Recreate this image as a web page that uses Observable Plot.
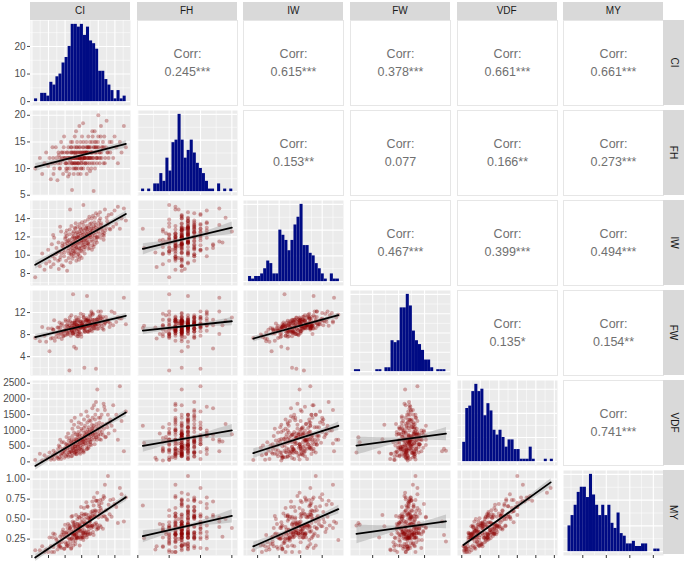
<!DOCTYPE html>
<html><head><meta charset="utf-8">
<script src="https://cdn.jsdelivr.net/npm/d3@7"></script>
<script src="https://cdn.jsdelivr.net/npm/@observablehq/plot@0.6"></script>
<style>
body{margin:0;background:#fff;font-family:"Liberation Sans",Arial,sans-serif;}
#fig{position:relative;width:685px;height:562px;overflow:hidden;background:#fff;}
.strip{position:absolute;background:#D9D9D9;color:#1A1A1A;font-size:10px;display:flex;align-items:center;justify-content:center;}
.strip.right span{display:block;transform:rotate(90deg);white-space:nowrap;}
</style></head><body><div id="fig"></div>
<script>
// ---------------- data ----------------
const VARS = ["CI","FH","IW","FW","VDF","MY"];

const CI = [
31.0,32.4,33.1,33.8,34.3,34.9,35.3,35.7,36.0,36.2,
37.4,36.5,38.0,36.9,37.7,38.1,36.7,37.2,37.9,36.4,
38.6,39.2,38.3,39.0,38.8,39.4,38.4,39.1,38.9,38.5,
39.9,40.3,39.6,40.1,39.5,40.4,39.8,40.0,39.7,40.2,
40.8,40.5,41.1,40.7,41.0,40.6,40.9,41.2,40.5,40.8,
41.5,41.8,41.3,41.6,41.9,41.4,41.7,41.3,41.8,41.5,
42.1,42.3,42.0,42.2,41.9,42.4,42.1,42.0,42.3,42.2,
42.6,42.8,42.5,42.9,42.7,42.5,42.8,42.6,42.9,42.7,
43.1,43.3,43.0,43.2,43.4,43.1,42.9,43.3,43.2,43.0,
43.6,43.8,43.5,43.7,43.9,43.5,43.6,43.8,43.7,43.4,
44.1,44.3,44.0,44.2,44.4,44.1,43.9,44.3,44.2,44.0,
44.6,44.8,44.5,44.7,44.9,44.6,44.5,44.8,44.7,44.4,
45.1,45.3,45.0,45.2,45.4,45.1,44.9,45.3,45.2,45.0,
45.6,45.8,45.5,45.7,45.9,45.6,45.5,45.8,45.7,45.4,
46.1,46.4,46.0,46.3,46.5,46.2,45.9,46.4,46.2,46.0,
46.7,46.9,46.6,46.8,47.0,46.7,46.5,46.9,46.8,46.6,
47.2,47.5,47.1,47.4,47.6,47.3,47.0,47.5,47.3,47.1,
47.8,48.1,47.7,48.0,48.2,47.9,47.6,48.1,47.9,47.7,
48.5,48.8,48.3,48.6,48.9,48.4,48.2,48.7,48.6,48.3,
49.2,49.5,49.0,49.3,49.6,49.1,48.9,49.4,49.3,49.0,
50.0,50.3,49.7,50.1,50.4,49.9,49.6,50.2,50.0,49.8,
50.9,51.4,50.6,51.1,51.6,50.8,50.5,51.3,51.0,50.7,
52.3,53.1,51.8,52.7,53.4,52.0,51.7,52.9,52.5,52.1,
53.6,54.0,54.5,54.9,55.4,55.9,56.5,57.0,57.7,58.3];

const FH = [
10,12,9,11,13,10.5,12,8,11,14,
12,9,13,11,7.8,12.5,10,14,11,12,
11,13,10,12,15,9,12,11.5,13,10,
12,10,14,11,12,9.5,13,12,16,11,
13,11,12,10,14,12,8.5,11,13,12,
12,14,10,13,11,12,15,9,12,11.5,
6,12,13,11,14,10,12,13,11,15,
12,10,13,16,11,12,14,9,12,13,
11,13,12,10,14,12.5,11,17,12,13,
14,12,11,13,9,12,15,11,12,10,
12,13,10,14,12,11,13,18,12,11,
13,11,12,15,10,12,14,13,9,12,
12,14,11,13,12,16,10,12,13,11.5,
13,12,15,11,12,14,10,13,12,18.5,
11,13,12,14,9,13,12,15,11,13,
14,12,13,11,16,12,13,10,14,12,
12,15,13,11,12,14,13,9.5,12,14,
13,11,14,12,17,13,12,15,10,13,
12,14,13,5.8,15,12,13,11,14,16,
14,12,13,15,11,13,17,12,14,10,
20,13,12,14,11,15,13,12,16,14,
13,15,12,14,11,18,13,14,12,16,
14,12,16,13,15,11,14,13,19,12,
13,15,12,16,14,11,15,13,18,14];

const IW = [
7.6,8.8,10.2,8.4,9.1,10.6,9.3,8.7,11.2,9.9,
10.8,9.0,11.4,9.6,10.3,8.5,11.9,10.1,9.4,12.2,
9.8,11.3,10.4,8.9,12.6,10.9,9.5,11.0,10.2,13.1,
11.2,9.4,10.6,12.0,8.8,11.5,10.3,11.8,9.9,12.4,
10.5,12.1,9.7,11.3,10.8,8.3,11.6,10.2,12.7,11.0,
11.4,10.1,12.3,9.2,11.0,12.8,10.6,11.7,10.3,15.0,
10.8,12.0,11.3,9.6,13.2,10.5,11.8,10.0,12.4,11.1,
12.1,10.4,11.5,13.0,9.9,11.2,10.7,12.6,11.9,10.2,
11.0,12.4,10.3,11.8,9.4,12.9,11.3,10.8,13.5,11.6,
12.0,10.6,11.4,13.1,10.1,11.9,12.5,9.8,11.2,10.9,
11.3,12.6,10.2,11.9,13.4,10.8,12.2,11.5,9.5,12.0,
12.4,11.0,13.0,10.5,11.7,12.1,9.9,11.4,12.8,10.7,
11.6,12.9,10.4,12.2,11.1,13.6,10.8,11.9,12.5,9.7,
12.3,11.2,13.3,10.6,12.0,11.6,15.5,10.9,12.7,11.4,
11.8,13.0,10.9,12.4,11.3,12.9,10.2,12.1,11.6,13.7,
12.6,11.3,13.2,12.0,10.7,12.8,11.6,13.9,11.1,12.3,
11.9,13.4,12.2,10.8,12.7,11.5,13.0,12.4,14.2,11.2,
13.1,11.7,12.5,14.0,11.1,12.9,12.2,10.6,13.5,12.0,
12.4,13.6,11.5,12.9,11.9,14.3,12.1,13.2,10.9,12.7,
13.3,12.0,14.1,11.6,12.8,13.0,11.2,12.5,14.6,12.2,
12.6,13.8,11.9,13.1,12.3,14.4,11.4,12.9,13.5,12.0,
13.5,12.2,14.0,12.8,11.7,13.3,14.7,12.5,13.0,11.9,
13.0,14.4,12.4,13.7,12.9,15.0,12.1,13.4,14.1,12.7,
12.8,14.5,13.1,14.9,13.4,15.3,12.9,14.0,15.1,13.8];

const FW = [
7.4,6.8,9.4,7.8,6.7,9.1,5.0,7.3,9.1,7.4,
8.1,8.9,9.3,6.9,9.3,7.5,10.6,7.5,8.2,8.9,
9.3,8.6,10.2,7.2,9.8,7.7,8.7,10.0,8.2,8.1,
8.8,8.9,7.8,10.7,8.4,8.6,9.5,7.9,8.7,10.4,
9.9,9.0,8.7,8.3,10.5,8.0,8.1,9.2,9.7,9.4,
8.4,9.0,1.5,9.2,8.7,11.1,7.8,9.7,9.4,10.4,
9.6,8.3,10.1,8.2,11.5,15.3,8.8,8.7,9.2,10.1,
9.2,9.6,8.1,10.5,8.8,8.3,10.2,9.7,10.1,5.8,
9.4,9.2,9.9,8.0,9.1,10.2,8.5,5.5,11.2,9.1,
8.6,9.5,10.7,9.7,8.1,10.5,9.7,9.0,7.7,9.8,
10.1,9.6,7.7,11.1,10.4,8.5,10.7,8.1,8.9,9.5,
9.4,10.4,9.2,9.3,8.1,10.3,9.6,9.3,11.8,8.4,
9.9,9.1,9.7,9.5,10.4,9.6,7.6,10.2,9.7,10.0,
9.3,2.0,11.2,9.5,8.5,11.1,11.6,8.7,9.2,9.7,
10.7,9.8,8.5,10.6,10.7,9.1,9.1,9.5,10.4,9.9,
9.8,10.4,15.0,8.6,9.7,9.5,11.0,10.8,8.5,10.5,
10.5,9.2,10.3,8.8,11.3,9.8,9.5,11.5,10.4,8.5,
9.5,10.3,9.9,11.9,9.7,8.9,10.8,8.6,12.2,10.0,
10.6,9.9,10.7,9.2,10.0,11.8,9.5,9.1,10.0,11.6,
10.1,10.7,9.7,1.8,10.8,9.8,10.7,10.0,9.6,9.1,
11.1,10.3,9.0,9.1,11.3,10.8,10.3,9.6,12.2,9.9,
10.0,11.2,10.6,10.9,8.9,12.2,11.5,9.1,9.5,10.9,
11.2,10.3,9.8,10.5,9.4,10.2,10.4,10.6,10.5,10.1,
10.0,12.2,9.7,11.9,10.3,11.1,10.9,10.9,14.7,9.9];

const VDF = [
60,260,45,210,90,150,300,70,120,180,
180,350,90,260,130,520,75,300,410,220,
250,410,150,620,95,330,480,280,200,700,
310,560,620,420,250,790,130,450,370,180,
520,240,680,380,160,450,900,300,560,210,
400,650,300,530,1300,470,310,760,180,580,
600,450,280,1050,340,350,190,700,420,820,
380,720,560,250,930,470,300,640,500,1180,
650,330,500,880,260,420,1400,720,560,300,
480,780,350,620,1100,240,690,530,860,400,
700,420,950,560,300,1250,480,640,820,350,
520,690,400,730,1050,260,600,1500,450,880,
760,450,1000,620,330,840,1200,560,700,380,
350,620,560,1350,810,300,700,930,1080,650,
850,520,1150,680,400,960,730,1600,590,820,
700,880,420,1020,430,1250,760,610,1450,900,
950,620,1100,1000,550,1320,860,700,780,480,
820,1180,650,960,1700,720,880,1050,540,1300,
1000,700,1400,1150,560,860,1080,1800,780,920,
1100,780,1350,780,700,1500,860,1200,1900,920,
880,1250,2300,1400,720,1050,950,1150,820,1650,
1100,850,1400,950,1850,700,1000,1200,1500,880,
800,900,1750,1100,1250,1650,1050,1500,1200,780,
1350,1150,1800,1000,1500,700,2400,1300,340,1600];

const MY = [
0.11,0.11,0.16,0.09,0.12,0.09,0.27,0.16,0.09,0.27,
0.24,0.15,0.16,0.31,0.12,0.18,0.09,0.26,0.22,0.32,
0.15,0.34,0.20,0.21,0.14,0.37,0.16,0.25,0.30,0.28,
0.28,0.19,0.33,0.21,0.30,0.34,0.13,0.43,0.13,0.33,
0.20,0.31,0.32,0.39,0.16,0.17,0.44,0.26,0.16,0.27,
0.38,0.25,0.42,0.19,0.53,0.24,0.40,0.36,0.13,0.39,
0.26,0.47,0.32,0.54,0.14,0.22,0.32,0.26,0.30,0.34,
0.36,0.30,0.45,0.26,0.31,0.17,0.31,0.43,0.30,0.41,
0.23,0.31,0.42,0.32,0.28,0.19,0.46,0.55,0.38,0.40,
0.34,0.26,0.35,0.50,0.39,0.27,0.27,0.44,0.44,0.26,
0.30,0.43,0.39,0.41,0.17,0.53,0.27,0.52,0.39,0.35,
0.42,0.27,0.35,0.25,0.46,0.41,0.27,0.65,0.35,0.37,
0.36,0.40,0.57,0.27,0.33,0.29,0.54,0.46,0.32,0.50,
0.27,0.43,0.32,0.64,0.56,0.33,0.24,0.36,0.55,0.28,
0.32,0.45,0.50,0.56,0.27,0.34,0.46,0.71,0.30,0.44,
0.52,0.31,0.30,0.41,0.34,0.66,0.33,0.41,0.65,0.41,
0.41,0.47,0.37,0.48,0.42,0.50,0.55,0.31,0.46,0.51,
0.51,0.42,0.53,0.41,0.72,0.59,0.32,0.54,0.39,0.52,
0.40,0.54,0.60,0.67,0.44,0.34,0.57,0.77,0.30,0.42,
0.60,0.37,0.59,0.45,0.40,0.55,0.53,0.73,0.73,0.61,
0.39,0.66,0.83,0.60,0.57,0.38,0.43,0.69,0.52,0.73,
0.61,0.38,0.74,0.53,0.79,0.40,0.42,0.75,0.70,0.64,
0.61,0.68,0.77,0.49,0.56,0.93,0.54,1.04,0.50,0.53,
0.74,0.53,0.75,0.69,0.65,0.45,0.89,0.81,0.47,0.77];

const HIST_CI  = [1,0,3,3,2,7,6,9,10,14,16,20,28,28,27,28,24,27,22,21,19,11,11,8,6,4,1,4,1,2];
const HIST_FH  = [1,0,1,0,3,3,7,4,13,8,19,20,30,20,13,16,20,15,11,9,7,4,1,1,0,3,0,1,0,1];
const HIST_IW  = [2,1,2,2,3,5,8,7,3,3,20,18,16,12,16,22,25,30,14,14,11,10,7,5,3,1,0,3,1,1];
const HIST_FW  = [1,1,0,0,0,0,0,1,1,0,2,2,16,15,16,33,33,40,34,21,16,14,11,6,6,2,0,1,1,1];
const HIST_VDF = [8,22,23,29,32,29,30,19,24,21,13,11,13,10,6,9,9,5,5,1,1,1,6,1,0,0,0,1,0,1];
const HIST_MY  = [10,14,18,23,25,25,21,30,22,18,14,18,14,18,11,9,15,7,6,3,3,4,2,2,3,3,0,0,1,1];
const SPAN_CI = [30.8, 58.4], SPAN_FH = [5.6, 20.15], SPAN_IW = [7.16, 15.6];
const SPAN_FW = [1.19, 15.29], SPAN_VDF = [27, 2473], SPAN_MY = [0.093, 1.07];

// correlation labels, upper triangle, row by row
const CORR_CI  = ["0.245***","0.615***","0.378***","0.661***","0.661***"];
const CORR_FH  = ["0.153**","0.077","0.166**","0.273***"];
const CORR_IW  = ["0.467***","0.399***","0.494***"];
const CORR_FW  = ["0.135*","0.154**"];
const CORR_VDF = ["0.741***"];

// tick values and labels
const TICKS_CI = [30,35,40,45,50,55];            const LABELS_CI = ["30","35","40","45","50","55"];
const TICKS_FH = [5,10,15,20];                   const LABELS_FH = ["5","10","15","20"];
const TICKS_IW = [8,10,12,14];                   const LABELS_IW = ["8","10","12","14"];
const TICKS_FW = [4,8,12];                       const LABELS_FW = ["4","8","12"];
const TICKS_VDF = [0,500,1000,1500,2000,2500];   const LABELS_VDF = ["0","500","1000","1500","2000","2500"];
const TICKS_MY = [0.25,0.5,0.75,1.0];            const LABELS_MY = ["0.25","0.50","0.75","1.00"];
const TICKS_COUNT = [0,10,20];                   const LABELS_COUNT = ["0","10","20"];

// ---------------- scale / layout config ----------------
const DOMAIN = {CI:[29.58,59.7], FH:[4.95,20.9], IW:[6.69,15.98], FW:[0.58,16.0], VDF:[-115,2585], MY:[0.045,1.108]};
const COL_X = [30, 136.67, 243.33, 350, 456.67, 563.33];
const ROW_Y = [20, 110, 200, 290, 380, 470];
const PW = 100, PH = 85;
const NAVY = "#000B84", RED = "#8B0000";
const FONT = "'Liberation Sans', Arial, Helvetica, sans-serif";

const DATA = {CI, FH, IW, FW, VDF, MY};
const HIST = {CI:HIST_CI, FH:HIST_FH, IW:HIST_IW, FW:HIST_FW, VDF:HIST_VDF, MY:HIST_MY};
const SPAN = {CI:SPAN_CI, FH:SPAN_FH, IW:SPAN_IW, FW:SPAN_FW, VDF:SPAN_VDF, MY:SPAN_MY};
const CORR = [CORR_CI, CORR_FH, CORR_IW, CORR_FW, CORR_VDF];
const TICKS = {CI:TICKS_CI, FH:TICKS_FH, IW:TICKS_IW, FW:TICKS_FW, VDF:TICKS_VDF, MY:TICKS_MY};
const LABELS = {CI:LABELS_CI, FH:LABELS_FH, IW:LABELS_IW, FW:LABELS_FW, VDF:LABELS_VDF, MY:LABELS_MY};

const obs = CI.map((_, i) => Object.fromEntries(VARS.map(v => [v, DATA[v][i]])));

function minorTicks(t, dom) {
  const s = t[1] - t[0], out = [];
  for (let k = -1; k < t.length; k++) {
    const m = t[0] + s * (k + 0.5);
    if (m > dom[0] && m < dom[1]) out.push(m);
  }
  return out;
}
function gridMarks(xt, xd, yt, yd) {
  return [
    Plot.frame({fill: "#EBEBEB", stroke: "none"}),
    Plot.ruleX(minorTicks(xt, xd), {x: d => d, stroke: "#fff", strokeWidth: 0.55}),
    Plot.ruleY(minorTicks(yt, yd), {y: d => d, stroke: "#fff", strokeWidth: 0.55}),
    Plot.ruleX(xt.filter(d => d >= xd[0] && d <= xd[1]), {x: d => d, stroke: "#fff", strokeWidth: 1.1}),
    Plot.ruleY(yt.filter(d => d >= yd[0] && d <= yd[1]), {y: d => d, stroke: "#fff", strokeWidth: 1.1})
  ];
}

const fig = document.getElementById("fig");

for (let r = 0; r < 6; r++) {
  for (let c = 0; c < 6; c++) {
    const xv = VARS[c], yv = VARS[r];
    const left = c === 0, bottom = r === 5;
    const ml = left ? 30 : 0, mb = bottom ? 7 : 0;
    const xdom = DOMAIN[xv];
    let ydom, marks = [], yTicks = TICKS[yv], yLabels = LABELS[yv];

    if (r === c) {
      const counts = HIST[xv], span = SPAN[xv], n = counts.length;
      const w = (span[1] - span[0]) / n;
      const bins = counts.map((k, i) => ({lo: span[0] + i * w, hi: span[0] + (i + 1) * w, count: k})).filter(b => b.count > 0);
      const max = d3.max(counts);
      ydom = [-0.05 * max, 1.05 * max];
      const gy = r === 0 ? TICKS_COUNT : d3.ticks(0, max, 4);
      if (r === 0) { yTicks = TICKS_COUNT; yLabels = LABELS_COUNT; }
      marks.push(...gridMarks(TICKS[xv], xdom, gy, ydom));
      marks.push(Plot.rect(bins, {x1: "lo", x2: "hi", y1: 0, y2: "count", fill: NAVY}));
    } else if (r > c) {
      ydom = DOMAIN[yv];
      marks.push(...gridMarks(TICKS[xv], xdom, TICKS[yv], ydom));
      marks.push(Plot.dot(obs, {x: xv, y: yv, r: 2, fill: RED, fillOpacity: 0.32, stroke: "none"}));
      marks.push(Plot.linearRegressionY(obs, {x: xv, y: yv, stroke: "#000", strokeWidth: 1.8, fill: "#999999", fillOpacity: 0.4, ci: 0.95}));
    } else {
      ydom = [0, 1];
      marks.push(Plot.frame({fill: "#fff", stroke: "#E6E6E6", strokeWidth: 1}));
      marks.push(Plot.text(["Corr:"], {frameAnchor: "middle", dy: -9.5, fontSize: 12.5, fill: "#707070", fontFamily: FONT}));
      marks.push(Plot.text([CORR[r][c - r - 1]], {frameAnchor: "middle", dy: 8.5, fontSize: 12.5, fill: "#707070", fontFamily: FONT}));
    }

    const xOpt = {domain: xdom};
    const yOpt = {domain: ydom};
    if (left) {
      const tk = yTicks, lb = yLabels;
      marks.push(Plot.axisY(tk, {tickSize: 3, tickPadding: 2, tickFormat: d => lb[tk.indexOf(d)], fontSize: 10, label: null, color: "#4D4D4D"}));
    } else yOpt.axis = null;
    if (bottom) {
      marks.push(Plot.axisX(TICKS[xv], {tickSize: 3, tickFormat: () => "", label: null, color: "#333"}));
    } else xOpt.axis = null;

    const svg = Plot.plot({
      width: PW + ml, height: PH + mb,
      marginLeft: ml, marginBottom: mb, marginTop: 0, marginRight: 0,
      x: xOpt, y: yOpt,
      style: {fontFamily: FONT, fontSize: "10px", background: "transparent", overflow: "visible"},
      marks
    });
    svg.style.position = "absolute";
    svg.style.left = (COL_X[c] - ml) + "px";
    svg.style.top = ROW_Y[r] + "px";
    fig.appendChild(svg);
  }
}

// strips
VARS.forEach((v, i) => {
  const t = document.createElement("div");
  t.className = "strip";
  t.style.left = COL_X[i] + "px"; t.style.top = "1.5px";
  t.style.width = PW + "px"; t.style.height = "18.5px";
  t.textContent = v;
  fig.appendChild(t);
  const s = document.createElement("div");
  s.className = "strip right";
  s.style.left = (COL_X[5] + PW) + "px"; s.style.top = ROW_Y[i] + "px";
  s.style.width = "21px"; s.style.height = (i === 5 ? 84 : PH) + "px";
  const sp = document.createElement("span"); sp.textContent = v;
  s.appendChild(sp);
  fig.appendChild(s);
});
</script>
</body></html>
